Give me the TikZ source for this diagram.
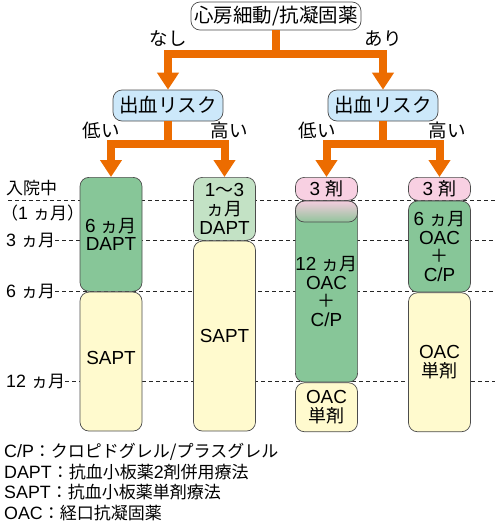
\documentclass[tikz,border=0pt]{standalone}
\usepackage{fontspec}
\setmainfont[Scale=1.05]{Liberation Sans}
\newfontfamily\jp{Noto Sans CJK JP}
\usepackage{xcolor}
\definecolor{treeor}{RGB}{236,108,0}
\definecolor{riskblue}{RGB}{204,232,250}
\definecolor{daptgreen}{RGB}{135,198,152}
\definecolor{lightgreen}{RGB}{195,226,197}
\definecolor{saptyellow}{RGB}{255,250,206}
\definecolor{triopink}{RGB}{248,208,226}
\definecolor{fadegreen}{RGB}{145,196,155}
\usetikzlibrary{arrows.meta, positioning, backgrounds}

\begin{document}
\begin{tikzpicture}[
  x=1pt, y=-1pt,
  box/.style={rectangle, rounded corners=9pt, draw=black!70, line width=0.7pt, inner sep=0pt,
              align=center, font=\fontsize{19.5}{19.5}\selectfont},
  period/.style={box, minimum width=62pt, font=\fontsize{18}{18.6}\selectfont},
  lab/.style={inner sep=0pt, font=\fontsize{18.5}{18.5}\selectfont},
  axislab/.style={lab, anchor=west, font=\fontsize{17}{17}\selectfont},
  tree/.style={line width=8pt, draw=treeor, -{Triangle[width=21pt, length=17pt]}},
  gridline/.style={dash pattern=on 4pt off 3pt, line width=0.8pt, draw=black!85}
]
\useasboundingbox (0,0) rectangle (495,528);

% decision tree
\node[box, fill=white, minimum width=170pt, minimum height=28pt] (af) at (276,16) {\jp 心房細動/抗凝固薬};
\node[box, fill=riskblue, minimum width=110pt, minimum height=31pt] (risk1) at (168,105.5) {\jp 出血リスク};
\node[box, fill=riskblue, minimum width=110pt, minimum height=31pt] (risk2) at (383,105.5) {\jp 出血リスク};
\node[lab] (none) at (168,39) {\jp なし};
\node[lab] (yes)  at (383,39) {\jp あり};
\node[lab] (low1)  at (101,130) {\jp 低い};
\node[lab] (high1) at (229,130) {\jp 高い};
\node[lab] (low2)  at (317,130) {\jp 低い};
\node[lab] (high2) at (447,130) {\jp 高い};

% time axis
\node[axislab] (stay)   at (6,188) {\jp 入院中};
\node[axislab] (month1) at (1,213) {{\jp （}1 {\jp ヵ月）}};
\node[axislab] (month3) at (6,240.5) {3 {\jp ヵ月}};
\node[axislab] (month6) at (6,291) {6 {\jp ヵ月}};
\node[axislab] (month12) at (6,381) {12 {\jp ヵ月}};
\coordinate (rim) at (495,0);

% columns
\node[period, fill=daptgreen, minimum height=114pt, anchor=north] (dapt6) at (111,177) {6 {\jp ヵ月}\\DAPT};
\node[period, fill=saptyellow, minimum height=139pt, below=0pt of dapt6] (sapt1) {\raisebox{7pt}{SAPT}};

\node[period, fill=lightgreen, minimum height=63pt, anchor=north] (dapt13) at (224.5,177) {1{\jp 〜}3\\{\jp ヵ月}\\DAPT};
\node[period, fill=saptyellow, minimum height=190pt, below=0pt of dapt13] (sapt2) {SAPT};

\node[period, fill=triopink, minimum height=23pt, anchor=north] (trio1) at (326.5,177) {3 {\jp 剤}};
\node[period, fill=daptgreen, minimum height=181pt, below=0pt of trio1] (oac12) {12 {\jp ヵ月}\\OAC\\{\jp ＋}\\C/P};
\node[period, top color=triopink!95!gray, bottom color=fadegreen, minimum height=21pt, below=0pt of trio1] (fade) {};
\node[period, fill=saptyellow, minimum height=49pt, below=0pt of oac12] (oacmono1) {OAC\\{\jp 単剤}};

\node[period, fill=triopink, minimum height=23pt, anchor=north] (trio2) at (439.5,177) {3 {\jp 剤}};
\node[period, fill=daptgreen, minimum height=91pt, below=0pt of trio2] (oac6) {6 {\jp ヵ月}\\OAC\\{\jp ＋}\\C/P};
\node[period, fill=saptyellow, minimum height=139pt, below=0pt of oac6] (oacmono2) {OAC\\{\jp 単剤}};

\begin{scope}[on background layer]
\draw[gridline] (8,200) -- (rim |- 0,200);
\draw[gridline] (month3.east)  -- (month3.east -| rim);
\draw[gridline] (month6.east)  -- (month6.east -| rim);
\draw[gridline] (month12.east) -- (month12.east -| rim);
\end{scope}

\draw[tree] (af.south) -- ++(0,24) -| (risk1.north);
\draw[tree] (af.south) -- ++(0,24) -| (risk2.north);
\draw[tree] (risk1.south) -- ++(0,22.5) -| (dapt6.north);
\draw[tree] (risk1.south) -- ++(0,22.5) -| (dapt13.north);
\draw[tree] (risk2.south) -- ++(0,22.5) -| (trio1.north);
\draw[tree] (risk2.south) -- ++(0,22.5) -| (trio2.north);

% legend
\node[anchor=north west, align=left, inner sep=0pt, font=\fontsize{17}{20.7}\selectfont] (legend) at (4,443)
  {C/P{\jp ：クロピドグレル/プラスグレル}\\
   DAPT{\jp ：抗血小板薬}2{\jp 剤併用療法}\\
   SAPT{\jp ：抗血小板薬単剤療法}\\
   OAC{\jp ：経口抗凝固薬}};
\end{tikzpicture}
\end{document}
